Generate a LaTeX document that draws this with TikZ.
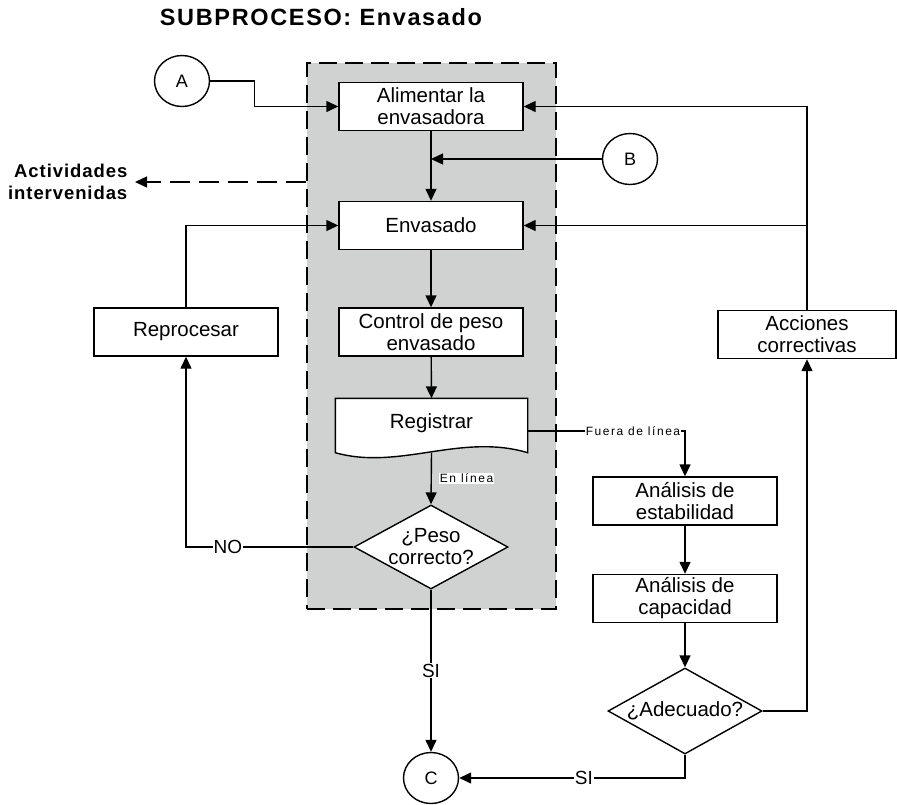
\documentclass[tikz,border=0pt]{standalone}
\usepackage{fontspec}
\setmainfont{Liberation Sans}
\usetikzlibrary{shapes.geometric,arrows.meta}
\definecolor{groupgray}{RGB}{208,210,210}
\begin{document}
\begin{tikzpicture}[x=1pt,y=-1pt,
  line width=1.4pt,
  >={Triangle[length=12pt,width=11pt]},
  every node/.style={font=\fontsize{20.5}{22}\selectfont},
  proc/.style={draw, fill=white, minimum width=184, minimum height=48, inner sep=0, align=center},
  conn/.style={draw, ellipse, fill=white, minimum width=55, minimum height=51, inner sep=0,
               font=\fontsize{18}{20}\selectfont},
  decision/.style={draw, diamond, fill=white, inner sep=0},
  flowlabel/.style={fill=white, inner sep=1pt, font=\fontsize{19}{21}\selectfont},
  smalllabel/.style={fill=white, inner sep=1pt,
                     font=\fontsize{12}{14}\selectfont\addfontfeature{LetterSpace=12.8}},
]
\useasboundingbox (0,0) rectangle (897,804);

% process group (shaded, dashed frame)
\node[draw, dash pattern=on 18pt off 8pt, fill=groupgray, minimum width=249, minimum height=546,
      inner sep=0] (grp) at (431.5,336) {};

% title and side note
\node[font=\bfseries\fontsize{23.5}{26}\selectfont\addfontfeature{LetterSpace=7}] (title)
  at (321,17) {SUBPROCESO: Envasado};
\node[anchor=east, align=right, inner xsep=7pt, inner ysep=0,
      font=\bfseries\fontsize{18.5}{22}\selectfont\addfontfeature{LetterSpace=5}] (act)
  at (135,182) {Actividades\\intervenidas};

% connectors (off-page)
\node[conn] (A) at (182,81) {A};
\node[conn] (B) at (630,159) {B};
\node[conn] (C) at (431,778) {C};

% main line
\node[proc] (alim) at (431,106.5) {Alimentar la\\envasadora};
\node[proc] (env) at (431,225.5) {Envasado};
\node[proc] (ctrl) at (431,332) {Control de peso\\envasado};
\node[minimum width=191, minimum height=56, inner sep=0] (reg) at (431.5,427) {};
\filldraw[fill=white] (reg.north west) -- (reg.north east) -- ([shift={(0,-3)}]reg.south east)
  .. controls +(-67,-20) and +(64,18) .. ([shift={(0,-3)}]reg.south west) -- cycle;
\node at ([yshift=4pt]reg.center) {Registrar};
\node[decision, minimum width=154, minimum height=84] (d1) at (431,547) {};
\node[align=center] at (d1.center) {¿Peso\\correcto?};

% side boxes
\node[proc] (rep) at (186,332) {Reprocesar};
\node[proc, minimum width=178] (acc) at (807,334.5) {Acciones\\correctivas};
\node[proc] (estab) at (685,501) {Análisis de\\estabilidad};
\node[proc] (capac) at (685,598.5) {Análisis de\\capacidad};
\node[decision, minimum width=154, minimum height=86] (d2) at (685,711) {};
\node at (d2.center) {¿Adecuado?};

% flow
\draw[->] (A.east) -- ++(44,0) |- (alim.west);
\draw[->] (alim) -- (env);
\draw[->] (B) -- (B -| alim.south);
\draw[->] (env) -- (ctrl);
\draw[->] (ctrl) -- (reg.north);
\draw[->] ([yshift=3pt]reg.south) -- (d1.north)
  node[pos=0.5, anchor=west, xshift=7pt, smalllabel] {En línea};
\draw[->] (d1.west) -| (rep.south) node[pos=0.375, flowlabel] {NO};
\draw[->] (rep.north) |- (env.west);
\draw[->] (d1.south) -- (C.north) node[midway, flowlabel] {SI};
\draw[->] ([yshift=-4pt]reg.east) -| (estab.north)
  node[pos=0.49, anchor=east, smalllabel] {Fuera de línea};
\draw[->] (estab) -- (capac);
\draw[->] (capac) -- (d2.north);
\draw[->] (d2.east) -| (acc.south);
\draw[->] (d2.south) |- (C.east) node[pos=0.724, flowlabel] {SI};
\draw[->] (acc.north) |- (alim.east);
\draw[->] (acc.north) |- (env.east);
\draw[->, dash pattern=on 20pt off 9pt] (grp.west |- act.east) -- (act.east);
\end{tikzpicture}
\end{document}
